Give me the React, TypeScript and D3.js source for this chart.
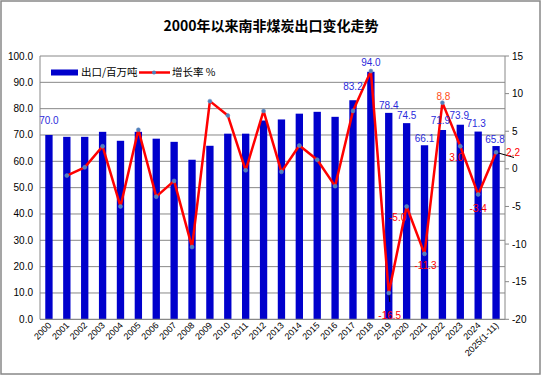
import React from "react";
import * as d3 from "d3";

const years = ["2000","2001","2002","2003","2004","2005","2006","2007","2008","2009","2010","2011","2012","2013","2014","2015","2016","2017","2018","2019","2020","2021","2022","2023","2024","2025(1-11)"];
const exportsMt = [70.0,69.3,69.3,71.2,67.8,71.2,68.6,67.4,60.6,65.9,70.5,70.5,75.5,75.9,78.1,78.8,76.9,83.2,94.0,78.4,74.5,66.1,71.9,73.9,71.3,65.8];
const growth = [null,-0.9,0.2,3.0,-5.0,5.2,-3.7,-1.6,-10.4,9.0,7.1,-0.2,7.7,-0.4,3.1,1.2,-2.3,7.7,13.0,-16.5,-5.0,-11.3,8.8,3.0,-3.4,2.2];
const leftTicks = [0,10,20,30,40,50,60,70,80,90,100];
const rightTicks = [15,10,5,0,-5,-10,-15,-20];
// labels shown: [index, dx, dy] offsets for bar labels
const barLabelIdx = [0,17,18,19,20,21,22,23,24,25];
const barLabelOff = [[0,-11],[0,-10],[0,-6],[0,-4],[0,-4],[0,-3],[-2,-6],[-1,-6],[-2,-5],[-1,-3]];
const lineLabelIdx = [19,20,21,22,23,24,25];
const lineLabelOff = [[1,23],[-9,11],[1,12],[1,-6],[-4,11],[0,14],[17,0]];

export default function App() {
  const W = 542, H = 376;
  const left = 40, right = 505, top = 56, bottom = 319.3;
  const x = d3.scaleBand<string>().domain(years).range([left, right]).paddingInner(0.59).paddingOuter(0.295);
  const xc = (i: number) => (x(years[i]) as number) + x.bandwidth() / 2;
  const yL = d3.scaleLinear().domain([0, 100]).range([bottom, top]);
  const yR = d3.scaleLinear().domain([-20, 15]).range([bottom, top]);
  const pts = growth.map((g, i) => (g === null ? null : [xc(i), yR(g)] as [number, number]));
  const line = d3.line<[number, number] | null>().defined(d => d !== null).x(d => d![0]).y(d => d![1]);
  const font = "'Liberation Sans', Arial, sans-serif";
  const cjk = "'Noto Sans CJK SC', sans-serif";
  return (
    <svg width={W} height={H} style={{ position: "fixed", left: 0, top: 0 }} fontFamily={font}>
      <rect x={0} y={0} width={W} height={H} fill="#fff" />
      <rect x={1} y={1} width={539} height={373} fill="none" stroke="#888" strokeWidth={1.5} />
      <text x={W / 2} y={31} textAnchor="middle" fontSize={14} fontWeight="bold" fontFamily={cjk}>2000年以来南非煤炭出口变化走势</text>
      {leftTicks.map(t => (
        <g key={"l" + t}>
          {t > 0 && <line x1={left} x2={right} y1={yL(t)} y2={yL(t)} stroke="#888" strokeWidth={1} />}
          <text x={33} y={yL(t) + 3.5} textAnchor="end" fontSize={10} fill="#000">{t.toFixed(1)}</text>
        </g>
      ))}
      {rightTicks.map(t => (
        <g key={"r" + t}>
          <line x1={right} x2={right + 4} y1={yR(t)} y2={yR(t)} stroke="#888" />
          <text x={512} y={yR(t) + 3.5} fontSize={10} fill="#000">{t}</text>
        </g>
      ))}
      <line x1={left} x2={left} y1={top} y2={bottom} stroke="#888" />
      <line x1={right} x2={right} y1={top} y2={bottom} stroke="#888" />
      {exportsMt.map((v, i) => (
        <rect key={"b" + i} x={x(years[i])} y={yL(v)} width={x.bandwidth()} height={bottom - yL(v)} fill="#0000cc" />
      ))}
      <line x1={left} x2={right} y1={bottom} y2={bottom} stroke="#888" strokeWidth={1.2} />
      {years.map((yv, i) => (
        <text key={"x" + i} transform={`translate(${xc(i) + 3},${326}) rotate(-45)`} textAnchor="end" fontSize={9} fill="#000">{yv}</text>
      ))}
      <path d={line(pts) || ""} fill="none" stroke="#ff0000" strokeWidth={2.5} strokeLinejoin="round" />
      {/* leader lines */}
      <line x1={xc(19)} y1={yR(-16.5)} x2={xc(19) + 1} y2={yR(-16.5) + 9} stroke="#000" strokeWidth={1} />
      <line x1={xc(25)} y1={yR(2.2)} x2={514} y2={157.5} stroke="#000" strokeWidth={1} />
      {pts.map((p, i) => p && <circle key={"m" + i} cx={p[0]} cy={p[1]} r={2} fill="#4f81bd" stroke="#6d8fc0" strokeWidth={0.5} />)}
      {barLabelIdx.map((idx, k) => (
        <text key={"bl" + idx} x={xc(idx) + barLabelOff[k][0]} y={yL(exportsMt[idx]) + barLabelOff[k][1]} textAnchor="middle" fontSize={10} fill="#2b2bdb">{exportsMt[idx].toFixed(1)}</text>
      ))}
      {lineLabelIdx.map((idx, k) => (
        <text key={"ll" + idx} x={xc(idx) + lineLabelOff[k][0]} y={yR(growth[idx] as number) + lineLabelOff[k][1] + 3.5} textAnchor="middle" fontSize={10} fill={idx === 22 ? "#ff4d1a" : "#ff0000"}>{(growth[idx] as number).toFixed(1)}</text>
      ))}
      {/* legend */}
      <rect x={51} y={69.5} width={27} height={6} fill="#0000cc" />
      <text x={81} y={76} fontSize={10.5} fontFamily={cjk} fill="#000">出口/百万吨</text>
      <line x1={139} x2={170} y1={72.5} y2={72.5} stroke="#ff0000" strokeWidth={2.5} />
      <circle cx={154} cy={72.5} r={2} fill="#4f81bd" />
      <text x={172} y={76} fontSize={10.5} fontFamily={cjk} fill="#000">增长率 %</text>
    </svg>
  );
}
